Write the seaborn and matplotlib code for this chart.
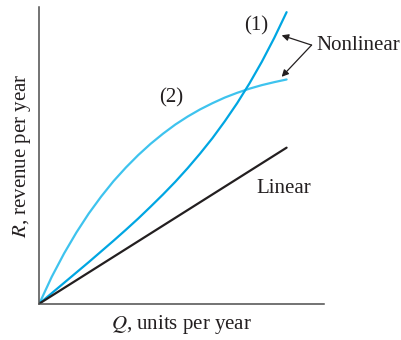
import pandas as pd
import matplotlib.pyplot as plt
import seaborn as sns

# Revenue vs quantity: two nonlinear curves and one linear one
q_curve = [0, 0.5, 1, 1.5, 2, 2.5, 3, 3.5, 4, 4.5, 5,
           5.5, 6, 6.5, 7, 7.5, 8, 8.5, 9, 9.5, 10]
r_nonlinear_1 = [0, 0.35, 0.70, 1.05, 1.40, 1.76, 2.12, 2.49, 2.87, 3.27, 3.68,
                 4.11, 4.57, 5.06, 5.58, 6.15, 6.76, 7.43, 8.16, 8.96, 9.83]
r_nonlinear_2 = [0, 0.90, 1.69, 2.40, 3.04, 3.61, 4.13, 4.59, 5.01, 5.39, 5.73,
                 6.04, 6.31, 6.55, 6.76, 6.95, 7.11, 7.25, 7.37, 7.47, 7.56]
q_linear = [0, 10]
r_linear = [0, 5.26]

df_curves = pd.DataFrame({"Q": q_curve, "R1": r_nonlinear_1, "R2": r_nonlinear_2})
df_linear = pd.DataFrame({"Q": q_linear, "R": r_linear})

sns.set_style("white")
plt.rcParams["font.family"] = ["Liberation Serif", "DejaVu Serif"]
plt.rcParams["mathtext.fontset"] = "stix"

ink = "#231f20"
blue_1 = "#00a6e2"
blue_2 = "#3ec3ee"

fig = plt.figure(figsize=(4.02, 3.40), dpi=100)
ax = fig.add_axes([0.0978, 0.107, 0.708, 0.872])

sns.lineplot(data=df_curves, x="Q", y="R2", ax=ax, color=blue_2, linewidth=1.6)
sns.lineplot(data=df_curves, x="Q", y="R1", ax=ax, color=blue_1, linewidth=1.6)
sns.lineplot(data=df_linear, x="Q", y="R", ax=ax, color=ink, linewidth=1.6)

ax.set_xlim(0, 11.51)
ax.set_ylim(0, 10)
ax.set_xticks([])
ax.set_yticks([])

for side in ["top", "right"]:
    ax.spines[side].set_visible(False)
for side in ["left", "bottom"]:
    ax.spines[side].set_color("#4d4d4d")
    ax.spines[side].set_linewidth(1.1)

ax.set_xlabel("$Q$, units per year", fontsize=15, color=ink)
ax.set_ylabel("$R$, revenue per year", fontsize=15, color=ink)
ax.xaxis.set_label_coords(0.5, -0.03)
ax.yaxis.set_label_coords(-0.022, 0.5)

# curve labels
ax.text(8.79, 9.36, "(1)", fontsize=15, color=ink, ha="center", va="center")
ax.text(5.32, 6.93, "(2)", fontsize=15, color=ink, ha="center", va="center")
ax.text(8.79, 3.89, "Linear", fontsize=15, color=ink, ha="left", va="center")
ax.text(11.22, 8.72, "Nonlinear", fontsize=15, color=ink, ha="left", va="center",
        clip_on=False)

# arrows from the Nonlinear label to both curves
for tip in [(9.80, 9.05), (9.80, 7.65)]:
    ax.annotate("", xy=tip, xytext=(11.01, 8.72),
                arrowprops=dict(arrowstyle="-|>", color=ink, lw=0.9,
                                mutation_scale=10, shrinkA=0, shrinkB=0),
                annotation_clip=False)

plt.savefig("out.png", dpi=100)
